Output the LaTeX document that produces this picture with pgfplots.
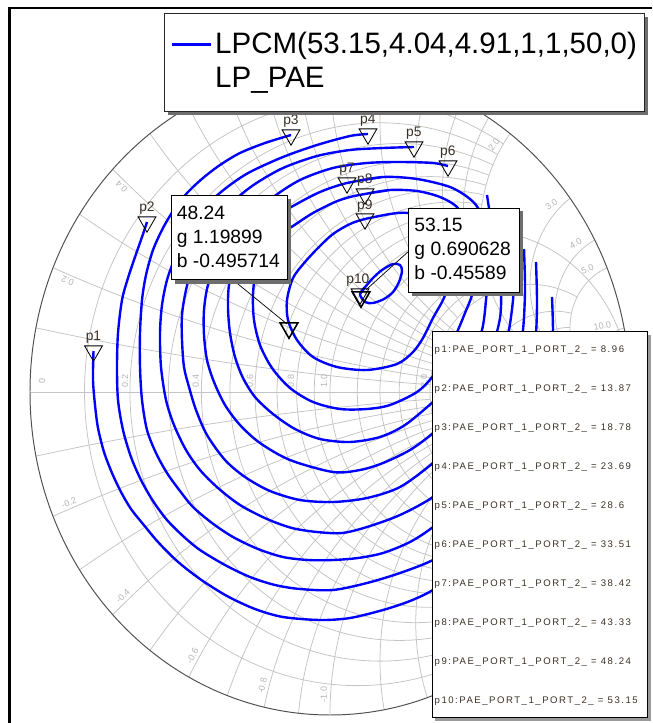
\documentclass[border=0pt]{standalone}
\usepackage{fontspec}
\setmainfont{Liberation Sans}
\usepackage{pgfplots}
\pgfplotsset{compat=1.18}

\definecolor{lpBlue}{HTML}{0000FF}
\definecolor{gridGrey}{HTML}{C4C4C4}
\definecolor{labGrey}{HTML}{B4B4B4}
\definecolor{rimGrey}{HTML}{505050}
\definecolor{shadowGrey}{HTML}{6E6E6E}
\definecolor{markText}{HTML}{3A3026}

\newcommand\rowfont{\fontsize{6.8}{8}\selectfont\addfontfeature{LetterSpace=16}}

\begin{document}
\begin{tikzpicture}
% 1 px of the reference = 0.025 cm, picture = 652 x 723 px
\useasboundingbox (0,0) rectangle (16.3cm,18.075cm);
\clip (0,0) rectangle (16.3cm,18.075cm);

% --- Smith chart grid in the Gamma plane, centre at px (330,392) ----------
\begin{scope}[shift={(8.25cm,8.275cm)}, x=7.5cm, y=8.075cm]
  \begin{scope}[draw=gridGrey, line width=0.55pt]
    \draw (-1,0) -- (1,0);
    % constant r circles, cut at |x| = X
    \foreach \rv/\Xv in {0.1/2,0.2/2,0.3/2,0.4/2,0.5/2,0.6/2,0.7/2,0.8/2,0.9/2,1/1000,
                         1.2/2,1.4/2,1.6/2,1.8/2,2/5,3/5,4/5,5/10,10/1000}{
      \pgfmathsetmacro\rc{\rv/(1+\rv)}
      \pgfmathsetmacro\rr{1/(1+\rv)}
      \pgfmathsetmacro\angA{180-2*atan(\Xv/(1+\rv))}
      \pgfmathsetmacro\angB{180+2*atan(\Xv/(1+\rv))}
      \pgfmathsetmacro\sx{\rc+\rr*cos(\angA)}
      \pgfmathsetmacro\sy{\rr*sin(\angA)}
      \draw (\sx,\sy) arc[start angle=\angA, end angle=\angB, radius=\rr];
    }
    % constant x arcs, cut at r = R
    \foreach \xv/\Rv in {0.1/2,0.2/2,0.3/2,0.4/2,0.5/2,0.6/2,0.7/2,0.8/2,0.9/2,1/1000,
                         1.2/2,1.4/2,1.6/2,1.8/2,2/5,3/5,4/5,5/10,10/1000}{
      \pgfmathsetmacro\xr{1/\xv}
      \pgfmathsetmacro\angA{90+2*atan(1/\xv)}
      \pgfmathsetmacro\angB{90+2*atan((\Rv+1)/\xv)}
      \pgfmathsetmacro\sx{1+\xr*cos(\angA)}
      \pgfmathsetmacro\sy{\xr+\xr*sin(\angA)}
      \pgfmathsetmacro\nsy{-\sy}
      \pgfmathsetmacro\nangA{-\angA}
      \pgfmathsetmacro\nangB{-\angB}
      \draw (\sx,\sy) arc[start angle=\angA, end angle=\angB, radius=\xr];
      \draw (\sx,\nsy) arc[start angle=\nangA, end angle=\nangB, radius=\xr];
    }
  \end{scope}
  \draw[rimGrey, line width=0.7pt] (0,0) circle[radius=1];
  % grid labels
  \begin{scope}[font=\fontsize{6.4}{7}\selectfont, text=labGrey]
    \foreach \xv/\tv in {0.2/0.2,0.4/0.4,2/2.0,3/3.0,4/4.0,5/5.0,10/10.0}{
      \pgfmathsetmacro\ph{180-2*atan(\xv)}
      \pgfmathsetmacro\px{0.97*cos(\ph)}
      \pgfmathsetmacro\py{0.97*sin(\ph)}
      \node[rotate=\ph, anchor=south east, inner sep=2pt] at (\px,\py) {\tv};
    }
    \foreach \xv/\tv in {0.2/-0.2,0.4/-0.4,0.6/-0.6,0.8/-0.8,1/-1.0}{
      \pgfmathsetmacro\ph{180+2*atan(\xv)}
      \pgfmathsetmacro\rot{\ph-180}
      \pgfmathsetmacro\px{0.97*cos(\ph)}
      \pgfmathsetmacro\py{0.97*sin(\ph)}
      \node[rotate=\rot, anchor=south west, inner sep=2pt] at (\px,\py) {\tv};
    }
    \foreach \gx/\tv in {-0.96/0,-0.683/0.2,-0.447/0.4,-0.267/0.6,-0.13/0.8,-0.02/1.0,0.313/2.0}{
      \node[rotate=90, inner sep=0pt] at (\gx,0.034) {\tv};
    }
  \end{scope}
\end{scope}

% --- load-pull PAE contours -------------------------------------------------
\begin{axis}[at={(0,0)}, anchor=south west,
    width=16.3cm, height=18.075cm, scale only axis,
    xmin=0, xmax=652, ymin=0, ymax=723, y dir=reverse,
    hide axis]

% p1 = 8.96
\addplot[lpBlue, line width=1.7pt, smooth] coordinates {
 (93.5,351) (93,380) (95,405) (98,428) (104,452) (112,473) (121,492) (131,509)
 (143,524) (158,542) (177,561) (200,579) (227,596) (255,609) (283,617) (320,620)
 (350,618) (383,610) (410,601) (433,590) (470,566) (505,533) (533,493) (552,447)
 (563,400) (566,355)};
% p2 = 13.87
\addplot[lpBlue, line width=1.7pt, smooth] coordinates {
 (147,222) (142,237) (135,257) (128,278) (122,300) (118,333) (117,367) (118,400)
 (123,430) (131,457) (141,480) (153,501) (167,520) (183,536) (200,550) (225,565)
 (250,577) (275,585) (300,589) (333,590) (367,583) (400,573) (433,560) (470,538)
 (503,505) (528,465) (544,420) (551,375) (553,335) (552,297)};
% p3 = 18.78
\addplot[lpBlue, line width=1.7pt, smooth] coordinates {
 (291,135) (265,143) (240,153) (220,165) (203,178) (188,192) (175,208) (163,228)
 (153,250) (146,275) (142,300) (140,333) (140,367) (142,400) (147,430) (156,453)
 (167,473) (180,491) (193,507) (212,523) (233,537) (258,549) (283,557) (308,560)
 (333,560) (358,558) (383,553) (410,542) (433,527) (465,500) (492,465) (513,425)
 (527,385) (535,345) (537,305) (536,262)};
% p4 = 23.69
\addplot[lpBlue, line width=1.7pt, smooth] coordinates {
 (368,134) (350,136) (317,145) (283,157) (250,172) (230,185) (212,200) (197,218)
 (185,237) (175,258) (167,280) (162,305) (160,333) (161,367) (166,400) (174,425)
 (186,450) (200,470) (218,488) (240,505) (267,519) (292,528) (317,532) (342,533)
 (367,527) (400,515) (433,497) (462,472) (487,440) (505,403) (517,365) (523,330)
 (525,290) (524,249)};
% p5 = 28.6
\addplot[lpBlue, line width=1.7pt, smooth] coordinates {
 (414,147) (383,148) (350,150) (317,156) (283,168) (255,184) (235,200) (218,220)
 (204,242) (193,265) (186,290) (182,315) (182,340) (184,367) (189,387) (196,410)
 (207,435) (225,460) (245,477) (270,491) (300,500) (333,502) (367,498) (400,487)
 (433,463) (460,437) (482,405) (498,370) (508,335) (513,300) (514,270) (513,245)};
% p6 = 33.51
\addplot[lpBlue, line width=1.7pt, smooth] coordinates {
 (448,166) (433,163) (400,162) (367,163) (333,168) (300,180) (272,198) (250,218)
 (232,240) (218,262) (208,285) (204,310) (204,335) (207,360) (214,382) (225,405)
 (240,425) (260,443) (290,460) (333,472) (360,470) (383,463) (410,450) (433,433)
 (458,408) (478,378) (492,348) (500,318) (501,290) (498,260) (493,230) (489,208)
 (487,195)};
% p7 = 38.42
\addplot[lpBlue, line width=1.7pt, smooth] coordinates {
 (347,183) (383,177) (417,179) (450,187) (470,199) (480,212) (486,240) (488,270)
 (486,300) (482,330) (470,360) (452,385) (433,402) (405,425) (380,437) (350,442)
 (320,439) (295,429) (273,414) (255,397) (243,378) (235,357) (230,333) (228,308)
 (229,285) (235,262) (247,240) (265,222) (293,206) (320,192) (347,183) (383,177)};
% p8 = 43.33
\addplot[lpBlue, line width=1.7pt, smooth] coordinates {
 (365,194) (390,190) (417,191) (440,197) (457,207) (468,225) (474,250) (475,275)
 (472,295) (465,313) (458,330) (448,352) (433,376) (417,392) (390,405) (367,409)
 (340,409) (313,402) (290,388) (272,368) (260,345) (254,320) (253,295) (256,270)
 (265,250) (278,236) (293,226) (313,213) (335,202) (350,197) (365,194) (390,190)};
% p9 = 48.24
\addplot[lpBlue, line width=1.7pt, smooth] coordinates {
 (365,219) (390,214) (408,213) (428,220) (442,238) (449,262) (448,285) (443,300)
 (433,318) (423,338) (413,352) (397,364) (367,370) (337,367) (313,357) (297,340)
 (288,320) (287,300) (293,278) (305,262) (318,248) (333,234) (350,224) (365,219)
 (390,214)};
% p10 = 53.15
\addplot[lpBlue, line width=1.7pt, smooth] coordinates {
 (360,294) (366,286) (373,278) (382,270) (393,264) (400,265) (402,271) (399,282)
 (393,292) (384,299) (373,303) (365,302) (360,294) (366,286)};

% contour markers p1..p10
\addplot[only marks, mark=triangle, mark size=7.3pt,
         mark options={rotate=180, draw=black, line width=0.6pt}] coordinates {
 (93.5,351) (147,222) (291,135) (368,134) (414,147) (448,166)
 (347,183) (365,194) (365,219) (360,294)};
% cursor markers
\addplot[only marks, mark=triangle, mark size=7.3pt,
         mark options={rotate=180, draw=black, line width=1.1pt}] coordinates {
 (289,328) (361,297)};
\end{axis}

% --- annotations, in reference pixels ---------------------------------------
\begin{scope}[shift={(0,18.075cm)}, x=0.025cm, y=-0.025cm]
  \foreach \n/\lx/\ly in {p1/93.5/337,p2/147/208,p3/291/121,p4/368/120,p5/414/133,
                          p6/448/152,p7/347/169,p8/365/180,p9/365/206,p10/358/280}
    \node[font=\fontsize{9.8}{10}\selectfont, text=markText, inner sep=0pt] at (\lx,\ly) {\n};

  % cursor read-outs
  \draw[black, line width=0.5pt] (233,280) -- (287,324);
  \draw[black, line width=0.5pt] (408,252) -- (366,290);
  \fill[shadowGrey] (175,199) rectangle (291,284);
  \filldraw[fill=white, draw=black, line width=0.7pt] (171.7,196) rectangle (287.3,280);
  \fill[shadowGrey] (412,211.5) rectangle (523,296.5);
  \filldraw[fill=white, draw=black, line width=0.7pt] (408.3,208.3) rectangle (519.3,292.7);
  \begin{scope}[font=\fontsize{13.7}{16}\selectfont, inner sep=0pt, anchor=base west]
    \node at (176.7,219.5) {48.24};
    \node at (176.7,243.5) {g 1.19899};
    \node at (176.7,267.5) {b -0.495714};
    \node at (414.3,231.7) {53.15};
    \node at (414.3,255.7) {g 0.690628};
    \node at (414.3,279.7) {b -0.45589};
  \end{scope}

  % legend
  \fill[shadowGrey] (168,17) rectangle (648,115);
  \filldraw[fill=white, draw=black!85, line width=0.7pt] (165,14) rectangle (645,112);
  \draw[lpBlue, line width=1.7pt] (172,44.5) -- (211,44.5);
  \node[anchor=base west, inner sep=0pt, font=\fontsize{21}{25}\selectfont] at (215,53.3)
    {LPCM(53.15,4.04,4.91,1,1,50,0)};
  \node[anchor=base west, inner sep=0pt, font=\fontsize{21}{25}\selectfont] at (215,88)
    {LP\_PAE};

  % marker value table
  \fill[shadowGrey!70] (435.5,335) rectangle (651,721);
  \filldraw[fill=white, draw=black, line width=0.7pt] (432.5,332) rectangle (648,718);
  \foreach \k/\v in {1/8.96,2/13.87,3/18.78,4/23.69,5/28.6,6/33.51,7/38.42,8/43.33,9/48.24,10/53.15}{
    \pgfmathsetmacro\by{352.7+39*(\k-1)}
    \node[anchor=base west, inner sep=0pt, font=\rowfont, text=markText] at (434.5,\by)
      {p\k:PAE\_PORT\_1\_PORT\_2\_ = \v};
  }

  % window frame
  \fill[black] (8.3,7.3) rectangle (652,9.3);
  \fill[black] (8.3,7.3) rectangle (11,723);
\end{scope}
\end{tikzpicture}
\end{document}
